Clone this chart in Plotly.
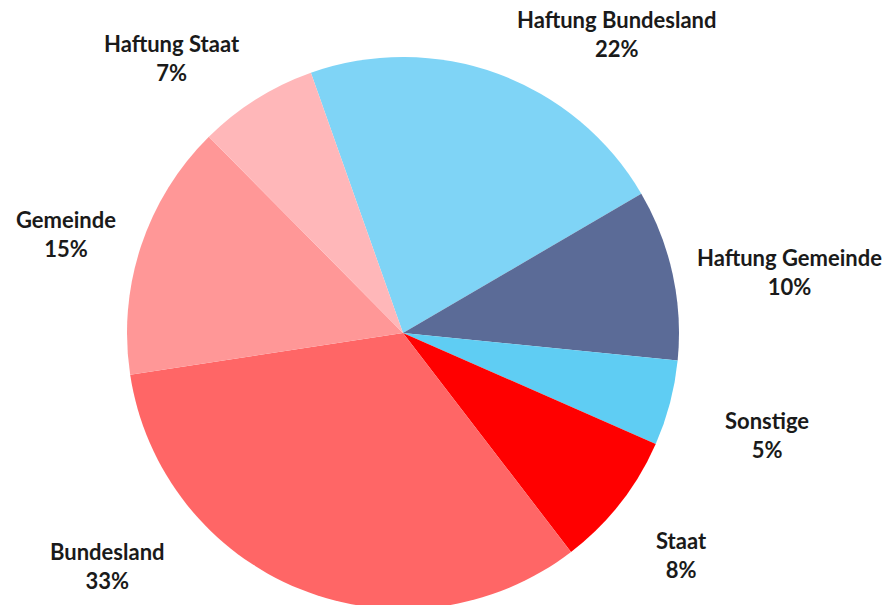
import plotly.graph_objects as go

labels = ["Haftung Bundesland", "Haftung Gemeinde", "Sonstige", "Staat",
          "Bundesland", "Gemeinde", "Haftung Staat"]
values = [22, 10, 5, 8, 33, 15, 7]
colors = ["#7FD4F6", "#5B6B97", "#5FCDF3", "#FF0000",
          "#FF6666", "#FF9797", "#FFB7B9"]

# label anchor positions in page pixels (layout)
label_px = [(617, 34), (789, 272), (767, 435), (681, 555),
            (107, 566), (66, 234), (172, 58)]

W, H = 888, 614
cx, cy, r = 403, 333, 276

fig = go.Figure(go.Pie(
    labels=labels, values=values, sort=False, direction="clockwise",
    rotation=-19.5, marker=dict(colors=colors, line=dict(width=0)),
    textinfo="none", hoverinfo="label+percent", showlegend=False,
    domain=dict(x=[(cx - r) / W, (cx + r) / W], y=[(H - cy - r) / H, (H - cy + r) / H]),
))

total = sum(values)
for lab, val, (px, py) in zip(labels, values, label_px):
    fig.add_annotation(
        x=px / W, y=1 - py / H, xref="paper", yref="paper",
        text=f"<b>{lab}<br>{round(100 * val / total)}%</b>",
        showarrow=False, xanchor="center", yanchor="middle", borderpad=0,
        font=dict(family="Lato", size=22, color="#1A1A1A"),
    )

fig.update_layout(width=W, height=H, margin=dict(l=0, r=0, t=0, b=0),
                  paper_bgcolor="white", plot_bgcolor="white")
fig.write_html("out.html", config={"displayModeBar": False},
               post_script="document.body.style.margin='0';document.body.style.overflow='hidden';")
